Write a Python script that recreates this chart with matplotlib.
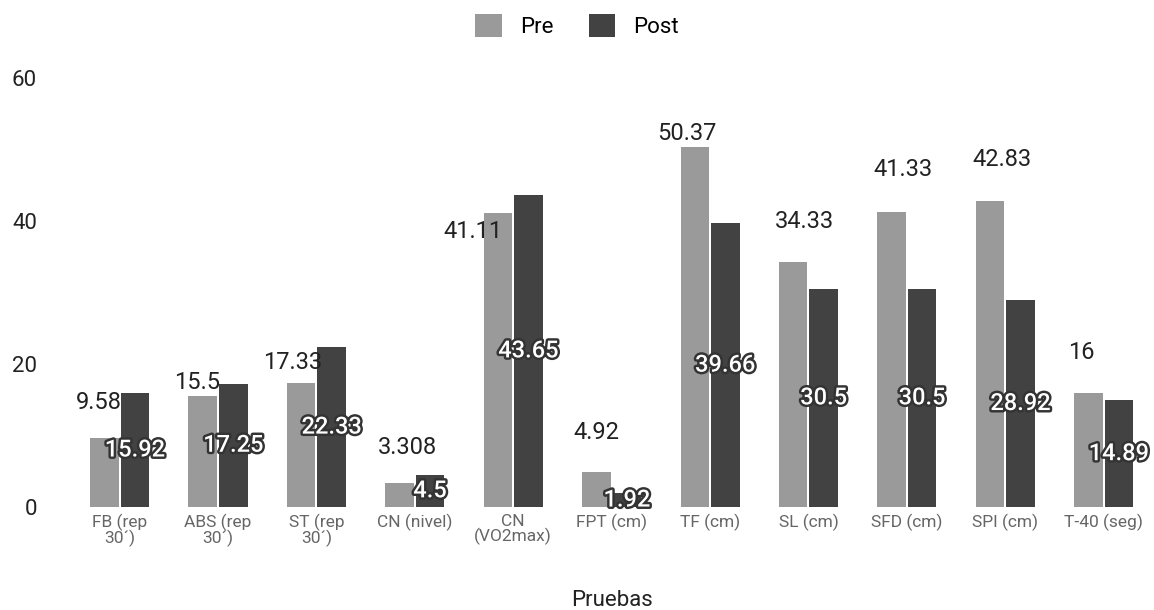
import numpy as np
import matplotlib.pyplot as plt
import matplotlib.patheffects as pe

plt.rcParams['font.family'] = ['Roboto', 'DejaVu Sans']

categories = ["FB (rep\n30´)", "ABS (rep\n30´)", "ST (rep\n30´)", "CN (nivel)", "CN\n(VO2max)",
              "FPT (cm)", "TF (cm)", "SL (cm)", "SFD (cm)", "SPI (cm)", "T-40 (seg)"]
pre = [9.58, 15.5, 17.33, 3.308, 41.11, 4.92, 50.37, 34.33, 41.33, 42.83, 16]
post = [15.92, 17.25, 22.33, 4.5, 43.65, 1.92, 39.66, 30.5, 30.5, 28.92, 14.89]
pre_labels = ["9.58", "15.5", "17.33", "3.308", "41.11", "4.92", "50.37", "34.33", "41.33", "42.83", "16"]
post_labels = ["15.92", "17.25", "22.33", "4.5", "43.65", "1.92", "39.66", "30.5", "30.5", "28.92", "14.89"]

# label placement tweaks (points) for the "Pre" labels, like the original
pre_dx = [-4, -4, -6, 6, -18, 0, -6, 8, 8, 9, -5]
pre_dy = [26, 10, 15, 26, -13, 28, 10, 29, 30, 30, 29]

c_pre = "#9a9a9a"
c_post = "#424242"

fig = plt.figure(figsize=(11.54, 6.1), dpi=100)
ax = fig.add_axes([0.061, 0.169, 0.938, 0.703])

x = np.arange(len(categories))
w = 0.29
off = 0.155
ax.bar(x - off, pre, w, color=c_pre, label="Pre")
ax.bar(x + off, post, w, color=c_post, label="Post")

for i in range(len(categories)):
    ax.annotate(pre_labels[i], (x[i] - off, pre[i]), xytext=(pre_dx[i], pre_dy[i]),
                textcoords="offset points", ha="center", va="center",
                fontsize=17, color="#222222")
    t = ax.text(x[i] + off, post[i] / 2, post_labels[i], ha="center", va="center",
                fontsize=17, color="white", fontweight="medium")
    t.set_path_effects([pe.withStroke(linewidth=3.5, foreground="#333333")])

ax.set_xlim(-0.5, len(categories) - 0.5)
ax.set_ylim(0, 60)
ax.set_yticks([0, 20, 40, 60])
ax.set_xticks(x)
ax.set_xticklabels(categories, fontsize=12.5, color="#666666", linespacing=0.9)
ax.tick_params(axis="y", length=0, pad=24, labelsize=16, labelcolor="#222222")
ax.tick_params(axis="x", length=0, pad=5)
for s in ax.spines.values():
    s.set_visible(False)

ax.set_xlabel("Pruebas", fontsize=16, color="#222222", labelpad=31)

fig.legend(loc="upper center", bbox_to_anchor=(0.5, 1.01), ncol=2, frameon=False,
           fontsize=16, handlelength=1.2, handleheight=1.2, columnspacing=1.6,
           handletextpad=0.8)

fig.savefig("out.png", dpi=100)
